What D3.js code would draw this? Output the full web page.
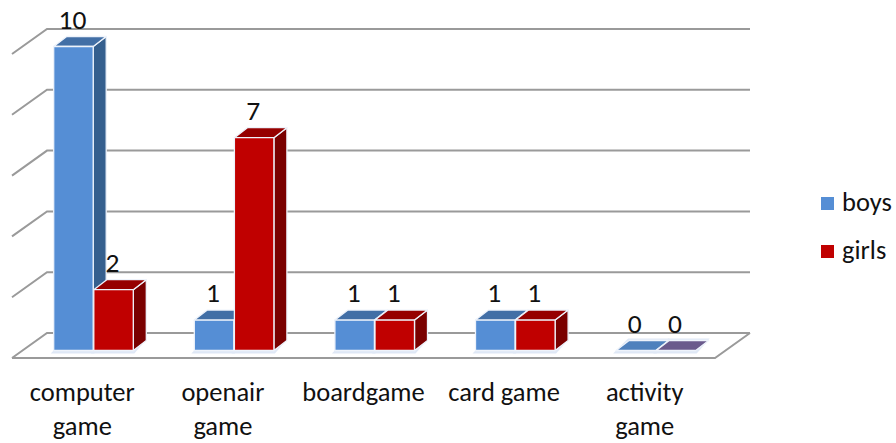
<!DOCTYPE html>
<html><head><meta charset="utf-8">
<script src="https://cdn.jsdelivr.net/npm/d3@7"></script>
<style>html,body{margin:0;padding:0;background:#fff}svg{display:block}text{font-family:Carlito,Lato,"Open Sans",sans-serif;fill:#111}</style>
</head><body><svg id="c" width="896" height="443"></svg>
<script>
const categories = [["computer","game"],["openair","game"],["boardgame"],["card game"],["activity","game"]];
const seriesNames = ["boys","girls"];
const boys = [10,1,1,1,0];
const girls = [2,7,1,1,0];
const tickValues = [0,2,4,6,8,10];
const frontColors = ["#558ed5","#c00000"];
const topColors = ["#426fa6","#960000"];
const sideColors = ["#355f8e","#7a0000"];
const zeroColors = ["#4f81bd","#6a5a8c"];

const svg = d3.select("#c");
const W = {l:47,r:750}, floorDx = 35, floorDy = 25;
const y = d3.scaleLinear().domain([0,10]).range([333,29]);
const x0 = d3.scaleBand().domain(d3.range(categories.length)).range([12,715]);
const barW = 39.5, gap = 0.6;
const fx = 11.2, fy = 7.5;   // bar front plane relative to floor front edge
const dx = 13, dy = 10;    // bar depth
const gridCol = "#9a9a9a";

const grid = svg.append("g").attr("stroke",gridCol).attr("stroke-width",2).attr("fill","none");
grid.selectAll(".b").data(tickValues).join("path")
  .attr("d",v=>`M${W.l-floorDx},${y(v)+floorDy}L${W.l},${y(v)}L${W.r},${y(v)}`);
grid.append("path").attr("d",`M${W.l-floorDx},${y(0)+floorDy}L${W.r-floorDx},${y(0)+floorDy}L${W.r},${y(0)}`);

const bars = [];
categories.forEach((c,i)=>{
  [boys,girls].forEach((s,k)=>{
    const x = x0(i)+x0.bandwidth()/2+fx-barW-gap/2+k*(barW+gap);
    const base = y(0)+floorDy-fy;
    const h = y(0)-y(s[i]);
    bars.push({i,k,v:s[i],x,base,top:base-h});
  });
});
const poly = a=>"M"+a.map(p=>p.join(",")).join("L")+"Z";
// pale halo on the floor
svg.append("g").selectAll("path").data(bars).join("path")
  .attr("fill","#dfe8f6")
  .attr("d",d=>poly([[d.x-3,d.base+3],[d.x+barW+1,d.base+3],[d.x+barW+dx+1,d.base-dy-2],[d.x+dx-1,d.base-dy-2]]));
const g = svg.append("g").selectAll("g").data(bars).join("g")
  .attr("stroke","#eef3fb").attr("stroke-width",1.3).attr("stroke-linejoin","round");
g.filter(d=>d.v>0).append("path").attr("fill",d=>sideColors[d.k])
  .attr("d",d=>poly([[d.x+barW,d.top],[d.x+barW+dx,d.top-dy],[d.x+barW+dx,d.base-dy],[d.x+barW,d.base]]));
g.append("path").attr("fill",d=>d.v>0?topColors[d.k]:zeroColors[d.k])
  .attr("d",d=>poly([[d.x,d.top],[d.x+barW,d.top],[d.x+barW+dx,d.top-dy],[d.x+dx,d.top-dy]]));
g.filter(d=>d.v>0).append("rect").attr("fill",d=>frontColors[d.k])
  .attr("x",d=>d.x).attr("y",d=>d.top).attr("width",barW).attr("height",d=>d.base-d.top);

// data labels
svg.append("g").selectAll("text").data(bars).join("text")
  .attr("text-anchor","middle").attr("font-size",27.5)
  .attr("x",d=>d.x+barW/2-1)
  .attr("y",d=>d.top-18)
  .text(d=>d.v);

// category labels
const cat = svg.append("g").selectAll("text").data(categories).join("text")
  .attr("text-anchor","middle").attr("font-size",26.5)
  .attr("x",(d,i)=>x0(i)+x0.bandwidth()/2);
cat.selectAll("tspan").data(d=>d).join("tspan")
  .attr("x",function(){return d3.select(this.parentNode).attr("x")})
  .attr("y",(d,i)=>401+i*34)
  .text(d=>d);

// legend
const ly = d3.scaleBand().domain(seriesNames).range([179.5,275.5]);
const leg = svg.append("g").selectAll("g").data(seriesNames).join("g")
  .attr("transform",d=>`translate(0,${ly(d)+ly.bandwidth()/2})`);
leg.append("rect").attr("x",821).attr("y",-6.5).attr("width",13).attr("height",13)
  .attr("fill",(d,i)=>frontColors[i]);
leg.append("text").attr("x",842).attr("y",7).attr("font-size",26.5).text(d=>d);
</script></body></html>
